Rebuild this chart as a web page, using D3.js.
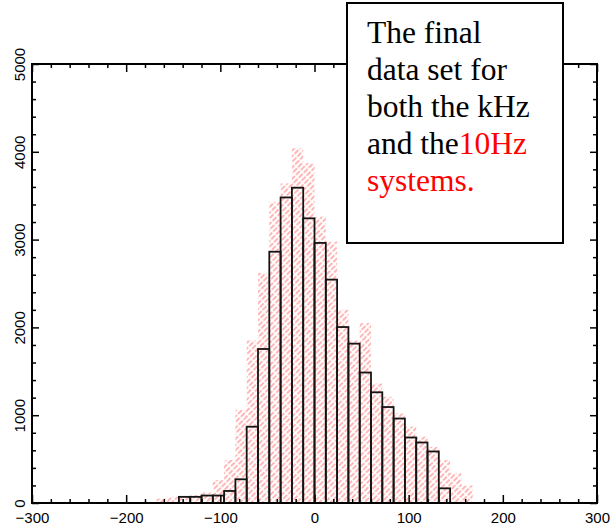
<!DOCTYPE html>
<html>
<head>
<meta charset="utf-8">
<script src="https://cdn.jsdelivr.net/npm/d3@7"></script>
<style>
body { margin: 0; background: #fff; }
.axis text { font: 15px "Liberation Sans", Arial, sans-serif; fill: #000; }
.axis line { stroke: #000; stroke-width: 1.5; }
.axis path { display: none; }
.frame { fill: none; stroke: #000; stroke-width: 2; }
.khz { fill: none; stroke: #141414; stroke-width: 1.8; }
.note rect { fill: #fff; stroke: #000; stroke-width: 2; }
.note text { font: 31.5px "Liberation Serif", "Times New Roman", serif; fill: #000; }
</style>
</head>
<body>
<div id="chart"></div>
<script>
// kHz system: left edge of each 12-unit bin and its count
var khzEdges = [-144, -132, -120, -108, -96, -84, -72, -60, -48, -36, -24, -12,
	0, 12, 24, 36, 48, 60, 72, 84, 96, 108, 120, 132];
var khzCounts = [70, 70, 85, 85, 137, 270, 869, 1754, 2862, 3480, 3591, 3242,
	2962, 2544, 2004, 1815, 1486, 1261, 1093, 962, 746, 689, 587, 167];

// 10Hz system (red hatch)
var hzEdges = [-168, -156, -144, -132, -120, -108, -96, -84, -72, -60, -48, -36, -24, -12,
	0, 12, 24, 36, 48, 60, 72, 84, 96, 108, 120, 132, 144, 156];
var hzCounts = [50, 70, 80, 90, 120, 260, 490, 1060, 1850, 2620, 3430, 3640, 4040, 3870,
	3260, 2980, 2200, 1850, 2050, 1360, 1210, 1020, 870, 755, 640, 490, 340, 200];

var binWidth = 12;

var xMajor = [-300, -200, -100, 0, 100, 200, 300];
var xMinor = [-280, -260, -240, -220, -180, -160, -140, -120, -80, -60, -40, -20,
	20, 40, 60, 80, 120, 140, 160, 180, 220, 240, 260, 280];
var yMajor = [0, 1000, 2000, 3000, 4000, 5000];
var yMinor = [200, 400, 600, 800, 1200, 1400, 1600, 1800, 2200, 2400, 2600, 2800,
	3200, 3400, 3600, 3800, 4200, 4400, 4600, 4800];

var noteLines = [
	[{ t: "The final", c: "#000" }],
	[{ t: "data set for", c: "#000" }],
	[{ t: "both the kHz", c: "#000" }],
	[{ t: "and the", c: "#000" }, { t: "10Hz", c: "#ff0000" }],
	[{ t: "systems.", c: "#ff0000" }]
];

var W = 613, H = 527;
var plot = { left: 32, right: 597, top: 64, bottom: 503 };

var svg = d3.select("#chart").append("svg")
	.attr("width", W)
	.attr("height", H);

var x = d3.scaleLinear().domain([-300, 300]).range([plot.left, plot.right]);
var y = d3.scaleLinear().domain([0, 5000]).range([plot.bottom, plot.top]);

// hatch pattern, dashed "/" lines
var defs = svg.append("defs");
var pat = defs.append("pattern")
	.attr("id", "hatch")
	.attr("patternUnits", "userSpaceOnUse")
	.attr("width", 4)
	.attr("height", 7)
	.attr("patternTransform", "rotate(45)");
pat.append("line")
	.attr("x1", 1).attr("y1", 0)
	.attr("x2", 1).attr("y2", 7)
	.attr("stroke", "#ff3030")
	.attr("stroke-width", 1)
	.attr("stroke-dasharray", "5.5,1.5")
	.attr("opacity", 0.7);

// red hatched histogram
svg.append("g").selectAll("rect")
	.data(hzEdges)
	.enter().append("rect")
	.attr("x", function(d) { return x(d); })
	.attr("y", function(d, i) { return y(hzCounts[i]); })
	.attr("width", function(d) { return x(d + binWidth) - x(d); })
	.attr("height", function(d, i) { return y(0) - y(hzCounts[i]); })
	.attr("fill", "url(#hatch)");

// black outlined histogram
svg.append("g").selectAll("rect")
	.data(khzEdges)
	.enter().append("rect")
	.attr("class", "khz")
	.attr("x", function(d) { return x(d); })
	.attr("y", function(d, i) { return y(khzCounts[i]); })
	.attr("width", function(d) { return x(d + binWidth) - x(d); })
	.attr("height", function(d, i) { return y(0) - y(khzCounts[i]); });

// axes
var noLabel = function() { return ""; };

svg.append("g").attr("class", "axis")
	.attr("transform", "translate(0," + plot.bottom + ")")
	.call(d3.axisBottom(x).tickValues(xMinor).tickSize(-4).tickFormat(noLabel));
svg.append("g").attr("class", "axis")
	.attr("transform", "translate(0," + plot.bottom + ")")
	.call(d3.axisBottom(x).tickValues(xMajor).tickSize(-8).tickPadding(9));

svg.append("g").attr("class", "axis")
	.attr("transform", "translate(0," + plot.top + ")")
	.call(d3.axisTop(x).tickValues(xMinor).tickSize(-4).tickFormat(noLabel));
svg.append("g").attr("class", "axis")
	.attr("transform", "translate(0," + plot.top + ")")
	.call(d3.axisTop(x).tickValues(xMajor).tickSize(-8).tickFormat(noLabel));

svg.append("g").attr("class", "axis")
	.attr("transform", "translate(" + plot.left + ",0)")
	.call(d3.axisLeft(y).tickValues(yMinor).tickSize(-4).tickFormat(noLabel));
var yAxis = svg.append("g").attr("class", "axis")
	.attr("transform", "translate(" + plot.left + ",0)")
	.call(d3.axisLeft(y).tickValues(yMajor).tickSize(-7).tickFormat(d3.format("d")));
yAxis.selectAll("text")
	.attr("x", null)
	.attr("text-anchor", "middle")
	.attr("dy", "0.35em")
	.attr("transform", "translate(-12,0) rotate(-90)");

svg.append("g").attr("class", "axis")
	.attr("transform", "translate(" + plot.right + ",0)")
	.call(d3.axisRight(y).tickValues(yMinor).tickSize(-4).tickFormat(noLabel));
svg.append("g").attr("class", "axis")
	.attr("transform", "translate(" + plot.right + ",0)")
	.call(d3.axisRight(y).tickValues(yMajor).tickSize(-7).tickFormat(noLabel));

svg.append("rect")
	.attr("class", "frame")
	.attr("x", plot.left)
	.attr("y", plot.top)
	.attr("width", plot.right - plot.left)
	.attr("height", plot.bottom - plot.top);

// note box
var note = svg.append("g").attr("class", "note");
note.append("rect")
	.attr("x", 347)
	.attr("y", 3)
	.attr("width", 216)
	.attr("height", 240);

note.selectAll("text")
	.data(noteLines)
	.enter().append("text")
	.attr("x", 367)
	.attr("y", function(d, i) { return 43 + i * 37; })
	.selectAll("tspan")
	.data(function(d) { return d; })
	.enter().append("tspan")
	.attr("fill", function(d) { return d.c; })
	.text(function(d) { return d.t; });
</script>
</body>
</html>
